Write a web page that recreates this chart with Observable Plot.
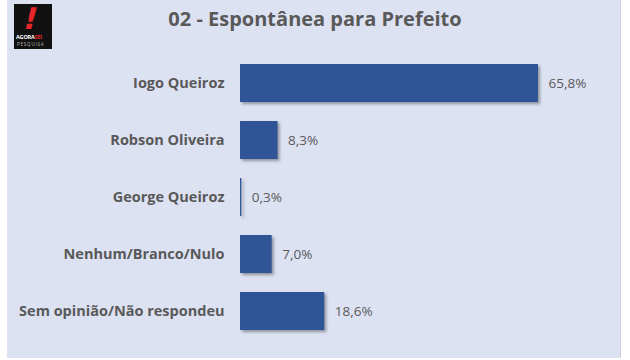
<!DOCTYPE html>
<html><head><meta charset="utf-8">
<script src="https://cdn.jsdelivr.net/npm/d3@7"></script>
<script src="https://cdn.jsdelivr.net/npm/@observablehq/plot@0.6"></script>
<style>
html,body{margin:0;padding:0;background:#fff;}
#wrap{position:relative;width:630px;height:360px;overflow:hidden;background:#fff;font-family:"Open Sans",sans-serif;}
#panel{position:absolute;left:7px;top:0;width:613px;height:358px;background:#dde2f3;border-right:1px solid #cfd4e4;}
#title{position:absolute;left:0;width:630px;top:5px;text-align:center;font-size:20px;font-weight:700;color:#595959;}
#logo{position:absolute;left:14px;top:4px;width:38px;height:45px;background:#111;}
#logo .bang{position:absolute;left:10px;top:0px;font-size:30px;font-weight:900;color:#e8262a;font-family:"DejaVu Sans",sans-serif;transform:skewX(-14deg);line-height:1;}
#logo .t1{position:absolute;left:2px;top:29px;font-size:5.5px;font-weight:700;color:#fff;white-space:nowrap;letter-spacing:-0.2px;}
#logo .t1 span{color:#e8262a;}
#logo .t2{position:absolute;left:3px;top:37px;font-size:4.5px;color:#bbb;letter-spacing:0.8px;white-space:nowrap;}
#chart{position:absolute;left:0;top:0;}
g[aria-label="bar"] rect{filter:drop-shadow(2px 2px 1.5px rgba(0,0,0,0.35));}
</style></head>
<body>
<div id="wrap">
  <div id="panel"></div>
  <div id="logo"><div class="bang">!</div><div class="t1">AGORA<span>SEI</span></div><div class="t2">PESQUISA</div></div>
  <div id="title">02 - Espontânea para Prefeito</div>
  <div id="chart"></div>
</div>
<script>
const categories = ["Iogo Queiroz", "Robson Oliveira", "George Queiroz", "Nenhum/Branco/Nulo", "Sem opinião/Não respondeu"];
const values = [65.8, 8.3, 0.3, 7.0, 18.6];
const valueLabels = ["65,8%", "8,3%", "0,3%", "7,0%", "18,6%"];

const data = categories.map((c, i) => ({name: c, value: values[i], label: valueLabels[i]}));

const chart = Plot.plot({
  width: 630,
  height: 360,
  marginTop: 53,
  marginBottom: 20,
  marginLeft: 240,
  marginRight: 92,
  style: {background: "transparent", fontFamily: "Open Sans, sans-serif"},
  x: {domain: [0, 65.8], axis: null},
  y: {domain: categories, paddingInner: 0.34, paddingOuter: 0.17, label: null},
  marks: [
    Plot.barX(data, {x: "value", y: "name", fill: "#2f5597"}),
    Plot.text(data, {x: "value", y: "name", text: "label", textAnchor: "start", dx: 10, fill: "#595959", fontSize: 13.5}),
    Plot.axisY({tickSize: 0, tickPadding: 16, fontSize: 14.5, fontWeight: "bold", color: "#595959", label: null})
  ]
});
document.getElementById("chart").appendChild(chart);
</script>
</body></html>
